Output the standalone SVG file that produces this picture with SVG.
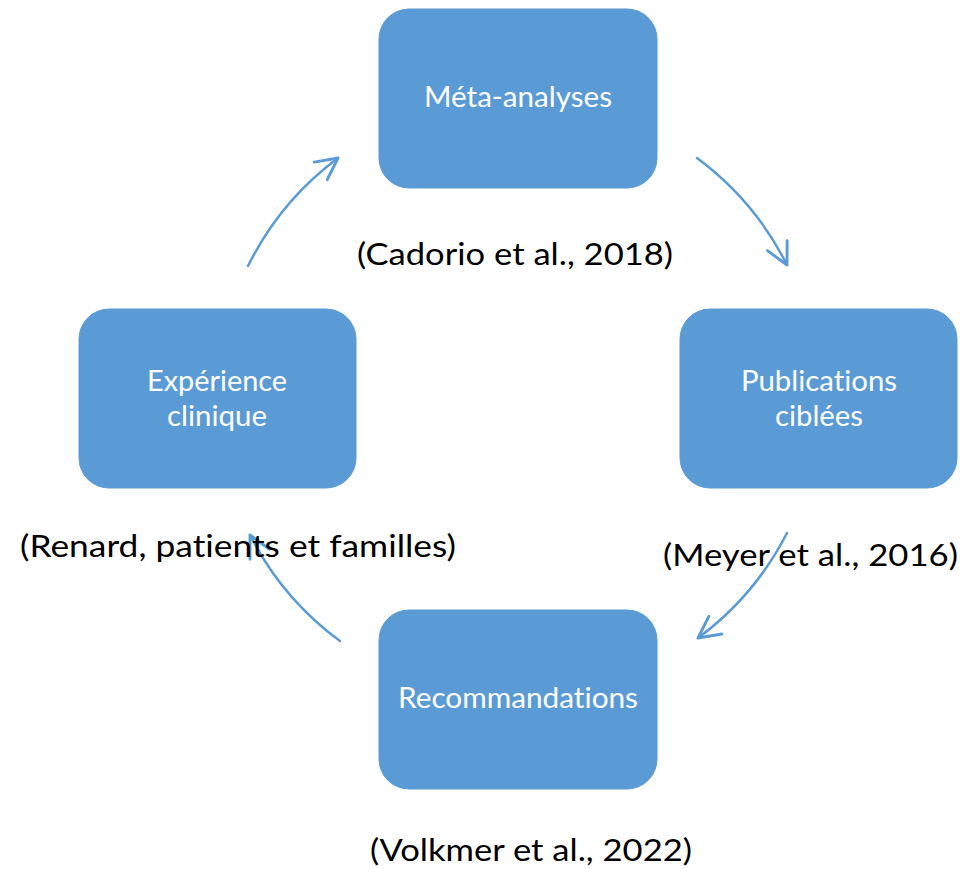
<svg xmlns="http://www.w3.org/2000/svg" width="960" height="869" viewBox="0 0 960 869">
<defs>
<style>
.box{fill:#5B9BD5;stroke:#5B9BD5;stroke-width:1}
.bt{fill:#FFFFFF;font-family:Lato,"Open Sans","Liberation Sans",sans-serif;font-size:29px;font-variant-ligatures:none;font-feature-settings:"liga" 0,"dlig" 0}
.lb{fill:#000000;font-family:Lato,"Open Sans","Liberation Sans",sans-serif;font-size:31px;font-variant-ligatures:none;font-feature-settings:"liga" 0,"dlig" 0}
.arc{fill:none;stroke:#5B9BD5;stroke-width:2.5;stroke-linecap:round}
</style>
<marker id="ah" markerUnits="userSpaceOnUse" markerWidth="30" markerHeight="30" viewBox="-22 -12 26 24" refX="0" refY="0" orient="auto" overflow="visible">
<path d="M-18.7,-9.5 L0,0 L-18.7,9.5" fill="none" stroke="#5B9BD5" stroke-width="2.5" stroke-linecap="round" stroke-linejoin="round"/>
</marker>
</defs>
<rect width="960" height="869" fill="#FFFFFF"/>
<g id="connectors">
<path class="arc" d="M248,266 A301,301 0 0 1 338,158" marker-end="url(#ah)"/>
<path class="arc" d="M697,158 A301,301 0 0 1 787,265" marker-end="url(#ah)"/>
<path class="arc" d="M787,533 A301,301 0 0 1 698,638" marker-end="url(#ah)"/>
<path class="arc" d="M340,641 A301,301 0 0 1 250,535" marker-end="url(#ah)"/>
</g>
<g id="meta">
<rect class="box" x="379" y="9" width="278" height="179" rx="30" ry="30"/>
<text class="bt" x="424" y="107" textLength="188" lengthAdjust="spacingAndGlyphs">Méta-analyses</text>
</g>
<g id="publications">
<rect class="box" x="680" y="309" width="277" height="179" rx="30" ry="30"/>
<text class="bt" x="741" y="391" textLength="156" lengthAdjust="spacingAndGlyphs">Publications</text>
<text class="bt" x="775" y="426" textLength="88" lengthAdjust="spacingAndGlyphs">ciblées</text>
</g>
<g id="recommandations">
<rect class="box" x="379" y="610" width="278" height="179" rx="30" ry="30"/>
<text class="bt" x="398" y="708" textLength="240" lengthAdjust="spacingAndGlyphs">Recommandations</text>
</g>
<g id="experience">
<rect class="box" x="79" y="309" width="277" height="179" rx="30" ry="30"/>
<text class="bt" x="147" y="391" textLength="140" lengthAdjust="spacingAndGlyphs">Expérience</text>
<text class="bt" x="167" y="426" textLength="100" lengthAdjust="spacingAndGlyphs">clinique</text>
</g>
<g id="labels">
<text class="lb" x="357" y="265" textLength="316" lengthAdjust="spacingAndGlyphs">(Cadorio et al., 2018)</text>
<text class="lb" x="20" y="557" textLength="436" lengthAdjust="spacingAndGlyphs">(Renard, patients et familles)</text>
<text class="lb" x="663" y="566" textLength="295" lengthAdjust="spacingAndGlyphs">(Meyer et al., 2016)</text>
<text class="lb" x="370" y="861" textLength="322" lengthAdjust="spacingAndGlyphs">(Volkmer et al., 2022)</text>
</g>
</svg>
